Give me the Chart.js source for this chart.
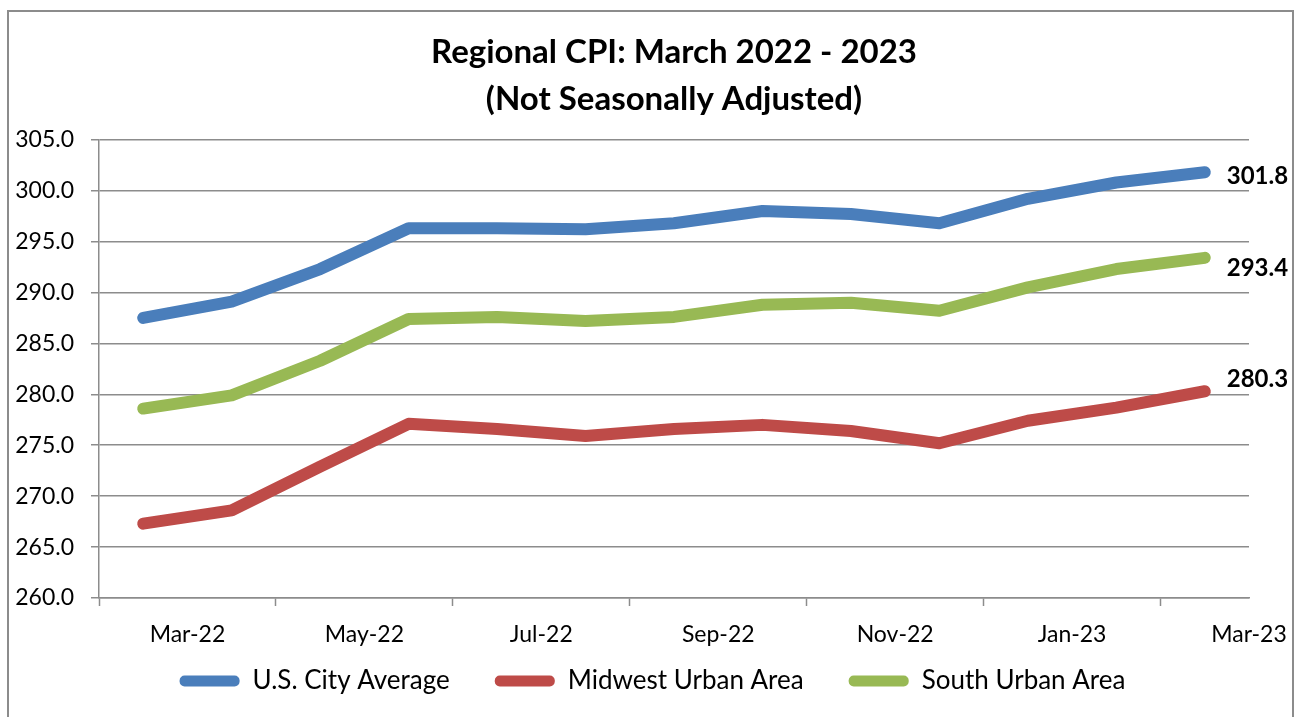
<!DOCTYPE html>
<html>
<head>
<meta charset="utf-8">
<script src="https://cdn.jsdelivr.net/npm/chart.js@4.4.1/dist/chart.umd.min.js"></script>
<style>
  html, body { margin: 0; padding: 0; background: #ffffff; }
  #wrap { position: relative; width: 1295px; height: 717px; overflow: hidden; }
  #frame { position: absolute; left: 7px; top: 10px; width: 1287px; height: 760px; border: 2px solid #8c8c8c; box-sizing: border-box; }
  canvas { position: absolute; left: 0; top: 0; }
</style>
</head>
<body>
<div id="wrap">
  <div id="frame"></div>
  <canvas id="c" width="1295" height="717"></canvas>
</div>
<script>
const months = ["Mar-22","Apr-22","May-22","Jun-22","Jul-22","Aug-22","Sep-22","Oct-22","Nov-22","Dec-22","Jan-23","Feb-23","Mar-23"];
const usCityAverage = [287.5, 289.1, 292.3, 296.3, 296.3, 296.2, 296.8, 298.0, 297.7, 296.8, 299.2, 300.8, 301.8];
const midwestUrban  = [267.3, 268.6, 272.9, 277.1, 276.6, 275.9, 276.6, 277.0, 276.4, 275.2, 277.4, 278.7, 280.3];
const southUrban    = [278.6, 279.9, 283.3, 287.4, 287.6, 287.2, 287.6, 288.8, 289.0, 288.2, 290.5, 292.3, 293.4];
const seriesNames = ["U.S. City Average", "Midwest Urban Area", "South Urban Area"];
const yTicks = [260, 265, 270, 275, 280, 285, 290, 295, 300, 305];
const titleLines = ["Regional CPI: March 2022 - 2023", "(Not Seasonally Adjusted)"];

const colors = ["#4a7ebb", "#be4b48", "#98b954"];
const labelOffsets = [4, -12, 10];
const legendShift = 23;

const toPoints = arr => arr.map((v, i) => ({ x: i, y: v }));

const endLabels = {
  id: 'endLabels',
  afterLayout(chart) {
    if (chart.legend) { chart.legend.left += legendShift; chart.legend.right += legendShift; }
  },
  afterDatasetsDraw(chart) {
    const ctx = chart.ctx;
    ctx.save();
    ctx.font = 'bold 24px Lato';
    ctx.fillStyle = '#000';
    ctx.textAlign = 'left';
    ctx.textBaseline = 'middle';
    chart.data.datasets.forEach((ds, di) => {
      const meta = chart.getDatasetMeta(di);
      const last = meta.data[meta.data.length - 1];
      const val = ds.data[ds.data.length - 1].y;
      ctx.fillText(val.toFixed(1), last.x + 22, last.y + labelOffsets[di]);
    });
    ctx.restore();
  }
};

const gridGray = '#8c8c8c';

new Chart(document.getElementById('c'), {
  type: 'line',
  data: {
    datasets: [
      { label: seriesNames[0], data: toPoints(usCityAverage), borderColor: colors[0], backgroundColor: colors[0] },
      { label: seriesNames[1], data: toPoints(midwestUrban), borderColor: colors[1], backgroundColor: colors[1] },
      { label: seriesNames[2], data: toPoints(southUrban), borderColor: colors[2], backgroundColor: colors[2] }
    ]
  },
  options: {
    responsive: false,
    animation: false,
    devicePixelRatio: 1,
    elements: {
      line: { borderWidth: 12, tension: 0, borderCapStyle: 'round', borderJoinStyle: 'round' },
      point: { radius: 0, hoverRadius: 0 }
    },
    layout: { padding: { left: 10, right: 46, top: 0, bottom: 13 } },
    plugins: {
      tooltip: { enabled: false },
      title: {
        display: true,
        fullSize: false,
        text: titleLines,
        color: '#000',
        font: { family: 'Lato', size: 33, weight: 'bold', lineHeight: 1.42 },
        padding: { top: 29, bottom: 17 }
      },
      legend: {
        position: 'bottom',
        labels: {
          color: '#000',
          font: { family: 'Lato', size: 26 },
          boxWidth: 60,
          boxHeight: 11,
          useBorderRadius: true,
          borderRadius: 5,
          padding: 45,
          generateLabels(chart) {
            return chart.data.datasets.map((ds, i) => ({
              text: ds.label,
              fillStyle: ds.borderColor,
              strokeStyle: ds.borderColor,
              lineWidth: 0,
              fontColor: '#000',
              datasetIndex: i,
              borderRadius: 5
            }));
          }
        }
      }
    },
    scales: {
      x: {
        type: 'linear',
        min: -0.5,
        max: 12.5,
        afterBuildTicks(scale) {
          const t = [];
          for (let k = 0; k <= 13; k++) t.push({ value: k - 0.5 });
          scale.ticks = t;
        },
        afterFit(scale) {
          scale.height = 25;
          scale.paddingRight = 0;
          scale.paddingLeft = 0;
          scale._computeLabelArea = () => undefined;
        },
        border: { display: true, color: gridGray, width: 1.5 },
        grid: {
          drawOnChartArea: false,
          drawTicks: true,
          tickLength: 8,
          tickWidth: 1.5,
          tickColor: ctx => {
            const v = ctx.tick ? ctx.tick.value + 0.5 : 1;
            return (Math.round(v) % 2 === 0 && v < 13) ? gridGray : 'rgba(0,0,0,0)';
          }
        },
        ticks: {
          autoSkip: false,
          maxRotation: 0,
          minRotation: 0,
          padding: 15,
          color: '#000',
          font: { family: 'Lato', size: 23 },
          callback(value) {
            const i = Math.round(value - 0.5);
            if (Math.abs(value - 0.5 - i) < 1e-6 && i % 2 === 0 && i >= 0 && i < months.length) return months[i];
            return '';
          }
        }
      },
      y: {
        min: 260,
        max: 305,
        afterBuildTicks(scale) { scale.ticks = yTicks.map(v => ({ value: v })); },
        afterFit(scale) { scale.width = 89; },
        border: { display: true, color: gridGray, width: 1.5 },
        grid: { color: gridGray, lineWidth: 1.5, tickLength: 8, tickColor: gridGray },
        ticks: {
          padding: 17,
          color: '#000',
          font: { family: 'Lato', size: 23 },
          callback: v => Number(v).toFixed(1)
        }
      }
    }
  },
  plugins: [endLabels]
});
</script>
</body>
</html>
